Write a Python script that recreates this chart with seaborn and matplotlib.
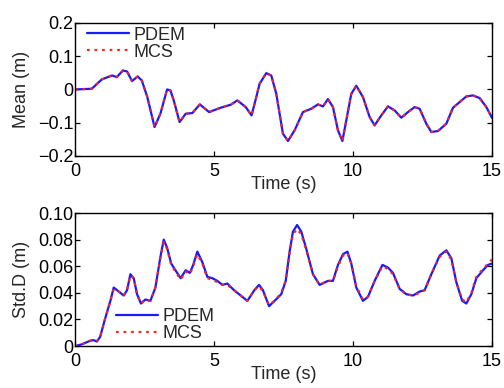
import numpy as np
import pandas as pd
import matplotlib
matplotlib.use("Agg")
import matplotlib.pyplot as plt
import seaborn as sns

# Mean response
t_mean = [0, 0.6, 0.96, 1.33, 1.5, 1.72, 1.87, 2.05, 2.25, 2.4, 2.6, 2.86, 3.07, 3.31,
          3.43, 3.55, 3.76, 3.98, 4.22, 4.49, 4.82, 5.24, 5.6, 5.84, 6.14, 6.35, 6.46,
          6.64, 6.88, 7.06, 7.24, 7.48, 7.66, 7.9, 8.2, 8.5, 8.74, 8.92, 9.1, 9.28, 9.46,
          9.62, 9.76, 9.94, 10.12, 10.36, 10.6, 10.78, 11.02, 11.26, 11.5, 11.74, 11.98,
          12.22, 12.4, 12.64, 12.82, 13.06, 13.36, 13.6, 13.84, 14.08, 14.32, 14.56, 14.8, 15.0]
mean_pdem = [0, 0.002, 0.03, 0.042, 0.037, 0.057, 0.054, 0.025, 0.039, 0.027, -0.023, -0.113,
             -0.073, 0, -0.003, -0.033, -0.098, -0.073, -0.071, -0.045, -0.068, -0.055, -0.046,
             -0.033, -0.053, -0.078, -0.043, 0.017, 0.049, 0.042, -0.013, -0.133, -0.155, -0.123,
             -0.068, -0.058, -0.045, -0.051, -0.029, -0.053, -0.123, -0.155, -0.093, -0.013,
             0.011, -0.023, -0.083, -0.108, -0.078, -0.051, -0.063, -0.085, -0.068, -0.053,
             -0.058, -0.103, -0.128, -0.125, -0.103, -0.055, -0.038, -0.021, -0.018, -0.026,
             -0.053, -0.085]
mean_mcs = mean_pdem

# Standard deviation
t_std = [0, 0.24, 0.54, 0.66, 0.78, 0.9, 1.08, 1.27, 1.39, 1.57, 1.75, 1.87, 1.99, 2.11, 2.23,
         2.37, 2.53, 2.71, 2.89, 3.07, 3.19, 3.31, 3.46, 3.61, 3.8, 3.98, 4.13, 4.25, 4.4, 4.58,
         4.76, 4.94, 5.12, 5.3, 5.48, 5.72, 5.96, 6.2, 6.45, 6.62, 6.76, 6.98, 7.18, 7.42, 7.58,
         7.72, 7.84, 7.99, 8.14, 8.32, 8.56, 8.8, 9.1, 9.28, 9.46, 9.64, 9.8, 9.94, 10.12, 10.36,
         10.54, 10.78, 11.06, 11.26, 11.44, 11.68, 11.92, 12.16, 12.4, 12.58, 12.82, 13.12,
         13.36, 13.54, 13.72, 13.93, 14.08, 14.26, 14.44, 14.68, 14.86, 15.0]
std_pdem = [0, 0.0013, 0.004, 0.0045, 0.0035, 0.0068, 0.0206, 0.034, 0.044, 0.041, 0.038,
            0.042, 0.054, 0.051, 0.039, 0.032, 0.035, 0.034, 0.044, 0.067, 0.080, 0.074, 0.062,
            0.057, 0.051, 0.057, 0.055, 0.061, 0.071, 0.063, 0.052, 0.051, 0.049, 0.046, 0.047,
            0.042, 0.038, 0.034, 0.042, 0.046, 0.042, 0.030, 0.034, 0.039, 0.049, 0.071, 0.086,
            0.091, 0.086, 0.073, 0.054, 0.046, 0.049, 0.049, 0.061, 0.069, 0.071, 0.062, 0.044,
            0.034, 0.037, 0.049, 0.061, 0.059, 0.055, 0.043, 0.039, 0.038, 0.041, 0.042, 0.054,
            0.068, 0.072, 0.066, 0.048, 0.034, 0.032, 0.039, 0.051, 0.057, 0.061, 0.062]
std_mcs = [0, 0.0013, 0.004, 0.0045, 0.0035, 0.0068, 0.0206, 0.034, 0.043, 0.041, 0.038,
           0.042, 0.053, 0.051, 0.039, 0.032, 0.035, 0.034, 0.044, 0.066, 0.078, 0.073, 0.061,
           0.056, 0.050, 0.056, 0.054, 0.060, 0.069, 0.062, 0.051, 0.050, 0.048, 0.046, 0.046,
           0.042, 0.038, 0.034, 0.042, 0.045, 0.041, 0.031, 0.034, 0.040, 0.049, 0.070, 0.084,
           0.088, 0.084, 0.072, 0.054, 0.046, 0.049, 0.049, 0.060, 0.068, 0.070, 0.062, 0.045,
           0.035, 0.037, 0.049, 0.060, 0.058, 0.054, 0.043, 0.039, 0.038, 0.040, 0.042, 0.054,
           0.067, 0.071, 0.065, 0.048, 0.035, 0.033, 0.040, 0.052, 0.058, 0.062, 0.065]

sns.set_style("ticks")
plt.rcParams['font.family'] = ['Liberation Sans', 'DejaVu Sans']
plt.rcParams['font.size'] = 13
plt.rcParams['xtick.direction'] = 'in'
plt.rcParams['ytick.direction'] = 'in'
plt.rcParams['xtick.top'] = True
plt.rcParams['ytick.right'] = True

fig = plt.figure(figsize=(5.04, 3.88), dpi=100)
ax1 = fig.add_axes([0.149, 0.598, 0.827, 0.343])
ax2 = fig.add_axes([0.149, 0.108, 0.827, 0.343])


def draw(ax, t, pdem, mcs):
    sns.lineplot(x=t, y=pdem, ax=ax, color='#1a1aff', lw=1.6, label='PDEM')
    sns.lineplot(x=t, y=mcs, ax=ax, color='#ff2020', lw=1.6, ls=(0, (1.2, 2.2)), label='MCS')
    ax.set_xlim(0, 15)
    ax.set_xticks([0, 5, 10, 15])
    ax.set_xticklabels(['0', '5', '10', '15'])
    ax.set_xlabel('Time (s)', labelpad=-3)
    for s in ax.spines.values():
        s.set_linewidth(1.0)
        s.set_color('black')
    ax.tick_params(length=3.5, width=0.9, colors='black', pad=1)
    ax.tick_params(axis='x', pad=5)


draw(ax1, t_mean, mean_pdem, mean_mcs)
ax1.set_ylim(-0.2, 0.2)
ax1.set_yticks([-0.2, -0.1, 0, 0.1, 0.2])
ax1.set_yticklabels(['\u22120.2', '\u22120.1', '0', '0.1', '0.2'])
ax1.set_ylabel('Mean (m)', labelpad=6)
ax1.legend(loc='upper left', frameon=False, handlelength=2.3, handletextpad=0.25,
           labelspacing=0.0, borderaxespad=0.0, borderpad=0.2, bbox_to_anchor=(0.02, 1.0))

draw(ax2, t_std, std_pdem, std_mcs)
ax2.set_ylim(0, 0.10)
ax2.set_yticks([0, 0.02, 0.04, 0.06, 0.08, 0.10])
ax2.set_yticklabels(['0', '0.02', '0.04', '0.06', '0.08', '0.10'])
ax2.set_ylabel('Std.D (m)', labelpad=6)
ax2.legend(loc='lower left', frameon=False, handlelength=2.3, handletextpad=0.25,
           labelspacing=0.0, borderaxespad=0.0, borderpad=0.2, bbox_to_anchor=(0.09, 0.0))

fig.savefig('out.png', dpi=100)
